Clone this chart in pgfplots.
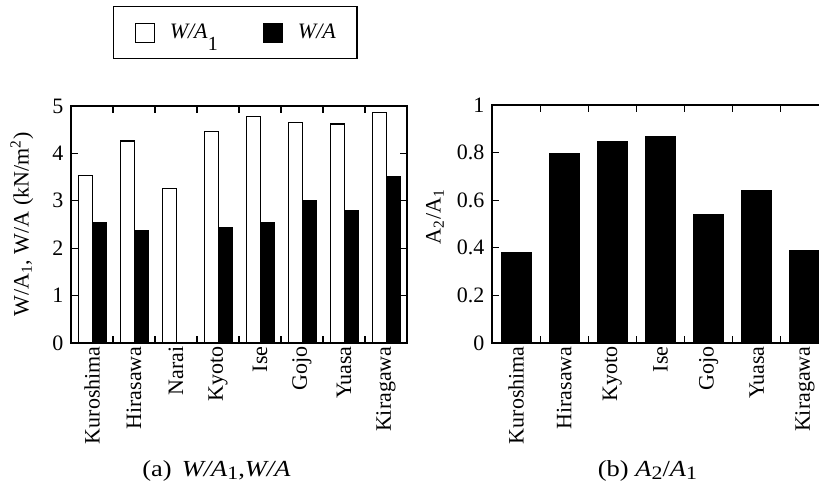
\documentclass[border=0pt]{standalone}
\usepackage{fontspec}
\setmainfont{Liberation Serif}
\newfontfamily\capfont[FakeStretch=1.15]{Liberation Serif}
\usepackage{pgfplots}
\pgfplotsset{compat=1.18}
\begin{document}
\fontsize{11}{13}\selectfont
\begin{tikzpicture}
\useasboundingbox (0pt,0pt) rectangle (409.5pt,-243pt);
\clip (0pt,0pt) rectangle (409.5pt,-243pt);
\pgfplotsset{
 base/.style={
  scale only axis, anchor=south west,
  axis line style={line width=0.6pt},
  tick style={black, line width=0.6pt},
  tick align=inside, major tick length=3.5pt, minor tick length=3.5pt,
  xtick pos=both, ytick pos=both, xticklabel pos=lower, yticklabel pos=left,
  xticklabel style={rotate=90, anchor=east, inner sep=1.5pt, font=\fontsize{11}{13}\selectfont},
  yticklabel style={font=\fontsize{11}{13}\selectfont},
  /pgf/number format/assume math mode=true,
  ylabel style={font=\fontsize{11}{13}\selectfont, anchor=center},
  extra x tick style={major tick length=0pt},
  ymin=0,
 }
}
\begin{axis}[base, at={(35.5pt,-171.5pt)}, width=168pt, height=118.5pt,
 xmin=0, xmax=8, ymax=5, ytick={0,1,2,3,4,5},
 xtick={1,2,3,4,5,6,7}, xticklabels={},
 extra x ticks={0.5,1.5,2.5,3.5,4.5,5.5,6.5,7.5},
 extra x tick labels={Kuroshima,Hirasawa,Narai,Kyoto,Ise,Gojo,Yuasa,Kiragawa},
 ylabel={W/A\textsubscript{1}, W/A (kN/m\textsuperscript{2})},
 ylabel style={at={(axis description cs:-0.146,0.5)}},
 legend style={at={(axis description cs:0.125,1.422)}, anchor=north west, legend columns=2,
   draw=black, line width=0.6pt, inner xsep=10.5pt, inner ysep=8pt,
   nodes={inner sep=0pt, font=\fontsize{11}{13}\selectfont},
   /tikz/every odd column/.append style={column sep=7.5pt},
   /tikz/every even column/.append style={column sep=22.5pt}},
]
\addplot[ybar, bar width=0.33, bar shift=0pt, fill=white, draw=black, line width=0.6pt,
  legend image code/.code={\draw[fill=white,draw=black,line width=0.6pt] (0pt,-4.75pt) rectangle (9.5pt,4.75pt);}]
  coordinates {(0.345,3.54) (1.345,4.26) (2.345,3.26) (3.345,4.46) (4.345,4.78) (5.345,4.66) (6.345,4.62) (7.345,4.86)};
\addlegendentry{\textit{W/A}\raisebox{-6pt}{\fontsize{10}{10}\selectfont 1}}
\addplot[ybar, bar width=0.33, bar shift=0pt, fill=black, draw=black, line width=0.6pt,
  legend image code/.code={\draw[fill=black,draw=black,line width=0.6pt] (0pt,-4.75pt) rectangle (9.5pt,4.75pt);}]
  coordinates {(0.675,2.55) (1.675,2.38) (3.675,2.43) (4.675,2.55) (5.675,3.00) (6.675,2.80) (7.675,3.51)};
\addlegendentry{\textit{W/A}}
\end{axis}
\begin{axis}[base, at={(246pt,-171.5pt)}, width=168.5pt, height=119pt,
 xmin=0, xmax=7, ymax=1, ytick={0,0.2,0.4,0.6,0.8,1},
 xtick={1,2,3,4,5,6}, xticklabels={},
 extra x ticks={0.5,1.5,2.5,3.5,4.5,5.5,6.5},
 extra x tick labels={Kuroshima,Hirasawa,Kyoto,Ise,Gojo,Yuasa,Kiragawa},
 ylabel={A\textsubscript{2}/A\textsubscript{1}},
 ylabel style={at={(axis description cs:-0.169,0.53)}},
]
\addplot[ybar, bar width=0.62, bar shift=0pt, fill=black, draw=black, line width=0.6pt]
  coordinates {(0.5,0.379) (1.5,0.797) (2.5,0.847) (3.5,0.867) (4.5,0.54) (5.5,0.641) (6.5,0.39)};
\end{axis}
\node[anchor=base, font=\capfont\fontsize{11.5}{13}\selectfont] at (108.25pt,-238.35pt)
  {(a)\hspace{5pt}\textit{W/A}\raisebox{-1.5pt}{\fontsize{9.5}{10}\selectfont 1},\textit{W/A}};
\node[anchor=base, font=\capfont\fontsize{11.5}{13}\selectfont] at (323.75pt,-238.35pt)
  {(b) \textit{A}\raisebox{-1.5pt}{\fontsize{9.5}{10}\selectfont 2}/\textit{A}\raisebox{-1.5pt}{\fontsize{9.5}{10}\selectfont 1}};
\end{tikzpicture}
\end{document}
